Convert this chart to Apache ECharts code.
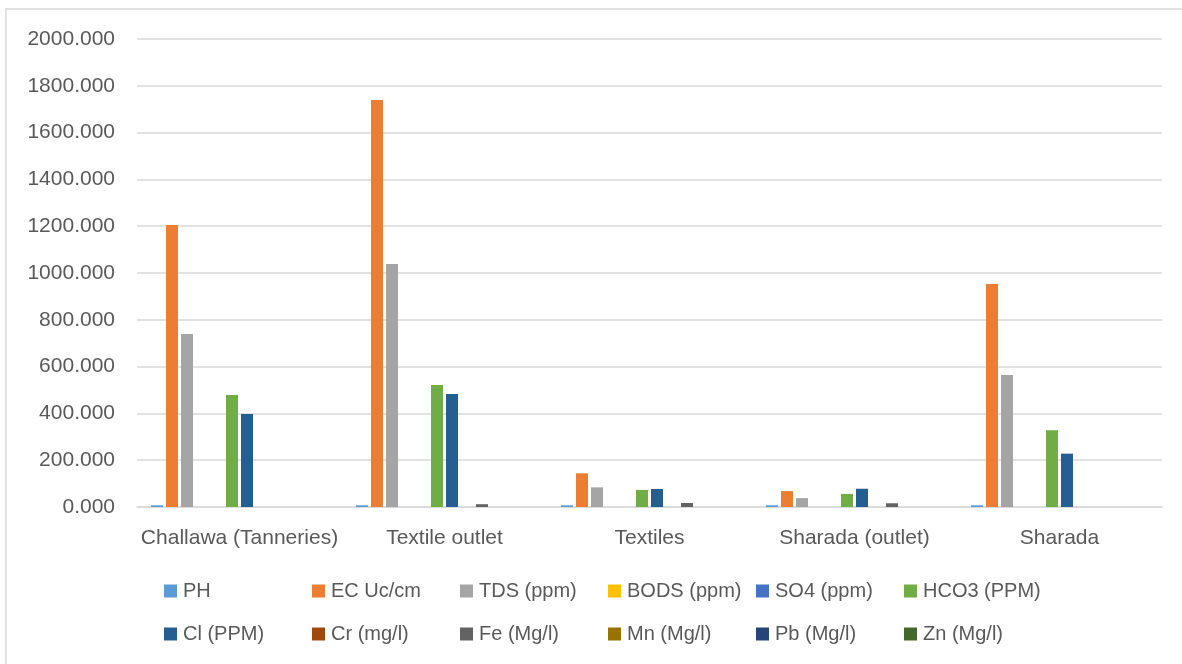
<!DOCTYPE html>
<html>
<head>
<meta charset="utf-8">
<script src="https://cdn.jsdelivr.net/npm/echarts@6/dist/echarts.min.js"></script>
<style>html,body{margin:0;padding:0;background:#fff;}#c{width:1182px;height:664px;}</style>
</head>
<body>
<div id="c"></div>
<script>
var categories = ['Challawa (Tanneries)', 'Textile outlet', 'Textiles', 'Sharada (outlet)', 'Sharada'];
var seriesNames = ['PH', 'EC Uc/cm', 'TDS (ppm)', 'BODS (ppm)', 'SO4 (ppm)', 'HCO3 (PPM)', 'Cl (PPM)', 'Cr (mg/l)', 'Fe (Mg/l)', 'Mn (Mg/l)', 'Pb (Mg/l)', 'Zn (Mg/l)'];
var PH   = [7.2, 7.4, 7.1, 7.3, 7.2];
var EC   = [1205, 1739, 144, 68, 953];
var TDS  = [739, 1038, 84, 38, 564];
var BODS = [0.1, 0.1, 0.1, 0.1, 0.1];
var SO4  = [0.1, 0.1, 0.1, 0.1, 0.1];
var HCO3 = [479, 521, 73, 56, 328];
var Cl   = [397, 483, 77, 78, 228];
var Cr   = [0.05, 0.05, 0.05, 0.05, 0.05];
var Fe   = [0.1, 12, 17, 16, 0.1];
var Mn   = [0.05, 0.05, 0.05, 0.05, 0.05];
var Pb   = [0.05, 0.05, 0.05, 0.05, 0.05];
var Zn   = [0.05, 0.05, 0.05, 0.05, 0.05];
var yTicks = [0, 200, 400, 600, 800, 1000, 1200, 1400, 1600, 1800, 2000];

var values = [PH, EC, TDS, BODS, SO4, HCO3, Cl, Cr, Fe, Mn, Pb, Zn];
var colors = ['#5B9BD5', '#ED7D31', '#A5A5A5', '#FFC000', '#4472C4', '#70AD47', '#255E91', '#9E480E', '#636363', '#997300', '#264478', '#43682B'];
var font = 'Liberation Sans';
var textColor = '#595959';

var series = seriesNames.map(function (n, i) {
  return {
    name: n, type: 'bar', data: values[i],
    barWidth: 12, barGap: '25%',
    itemStyle: { color: colors[i] }
  };
});

var legends = seriesNames.map(function (n, i) {
  var col = i % 6, row = Math.floor(i / 6);
  return {
    data: [n],
    left: 164 + col * 148,
    top: row === 0 ? 581 : 624,
    icon: 'rect',
    itemWidth: 13, itemHeight: 13, itemGap: 0,
    padding: 0,
    textStyle: { fontFamily: font, fontSize: 20, color: textColor, padding: [0, 0, 0, 1] },
    selectedMode: false
  };
});

var chart = echarts.init(document.getElementById('c'));
chart.setOption({
  animation: false,
  color: colors,
  grid: { left: 137, right: 20, top: 39, bottom: 157, containLabel: false },
  xAxis: {
    type: 'category', data: categories,
    axisLine: { lineStyle: { color: '#d9d9d9', width: 1.5 } },
    axisTick: { show: false },
    axisLabel: { fontFamily: font, fontSize: 21, color: textColor, margin: 21, interval: 0 }
  },
  yAxis: {
    type: 'value', min: yTicks[0], max: yTicks[yTicks.length - 1], interval: 200,
    axisLine: { show: false }, axisTick: { show: false },
    splitLine: { lineStyle: { color: '#d9d9d9', width: 1.5 } },
    axisLabel: { fontFamily: font, fontSize: 21, color: textColor, margin: 22,
      formatter: function (v) { return v.toFixed(3); } }
  },
  legend: legends,
  graphic: [{
    type: 'rect', shape: { x: 6, y: 9, width: 1300, height: 800 },
    style: { fill: 'none', stroke: '#d9d9d9', lineWidth: 1.5 }, silent: true, z: -1
  }],
  series: series
});
</script>
</body>
</html>
